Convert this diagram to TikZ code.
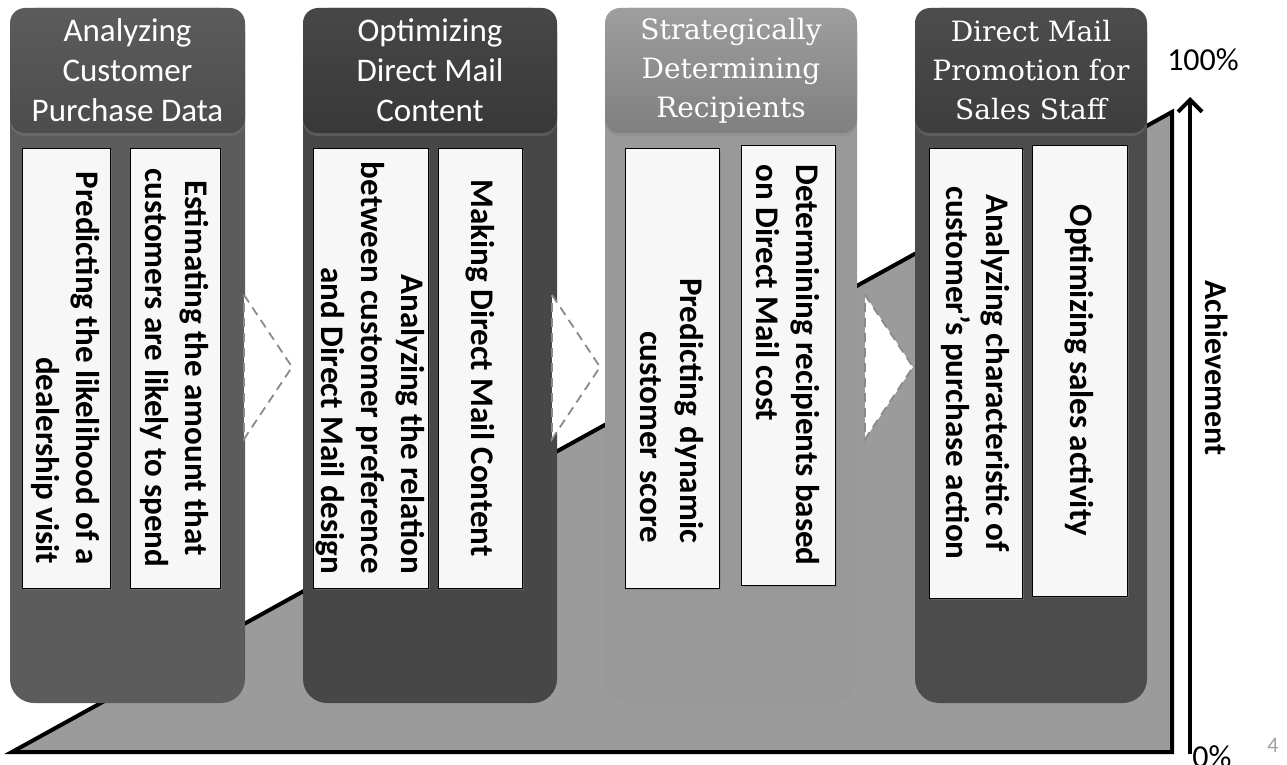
\documentclass[tikz,border=0pt]{standalone}
\usepackage{fontspec}
\setmainfont{Carlito}
\newfontfamily\headserif{DejaVu Serif}
\usepackage{tikz}
\usetikzlibrary{calc,arrows.meta,shadows}
\definecolor{polyfill}{HTML}{9B9B9B}
\definecolor{cardfill}{HTML}{F7F7F7}
\definecolor{chevline}{HTML}{8A8A8A}
\definecolor{pagenum}{HTML}{A0A0A0}
\tikzset{
  colbody/.style={rounded corners=24pt, minimum height=695pt, inner sep=0pt},
  headbox/.style={rounded corners=15pt, anchor=north, minimum height=125pt, inner sep=0pt,
    text=white, align=center, drop shadow={opacity=0.35, shadow xshift=0pt, shadow yshift=-3pt}},
  sanshead/.style={headbox, font=\fontsize{33}{40}\selectfont},
  serifhead/.style={headbox, font=\headserif\fontsize{28}{39}\selectfont},
  card/.style={draw=black, line width=1pt, fill=cardfill, rotate=-90, inner sep=0pt,
    font=\bfseries\fontsize{33}{40}\selectfont,
    drop shadow={opacity=0.45, shadow xshift=2pt, shadow yshift=-2pt}},
  chev/.style={fill=white, draw=chevline, line width=1.8pt, dash pattern=on 9pt off 6pt},
  thickline/.style={draw=black, line width=4pt},
  lab/.style={font=\fontsize{32}{34}\selectfont},
}
\begin{document}
\begin{tikzpicture}[x=1pt,y=-1pt]
  \useasboundingbox (0,0) rectangle (1287,765);

  \coordinate (P0) at (12,752);
  \coordinate (P1) at (1172,112);
  \coordinate (P2) at (1172,752);
  \draw[thickline, fill=polyfill] (P0) -- (P1) -- (P2) -- cycle;

  % columns
  \node[colbody, minimum width=235pt, fill=black!64] (col1) at (127.5,355.5) {};
  \node[colbody, minimum width=254pt, fill=black!72] (col2) at (430,355.5) {};
  \node[colbody, minimum width=252pt, fill=black!40] (col3) at (731,355.5) {};
  \node[colbody, minimum width=232pt, fill=black!70] (col4) at (1031,355.5) {};

  \node[sanshead, minimum width=235pt, top color=black!64, bottom color=black!70] (hd1) at (col1.north)
    {Analyzing\\Customer\\Purchase Data};
  \node[sanshead, minimum width=254pt, top color=black!72, bottom color=black!78] (hd2) at (col2.north)
    {Optimizing\\Direct Mail\\Content};
  \node[serifhead, minimum width=252pt, top color=black!38, bottom color=black!50] (hd3) at (col3.north)
    {Strategically\\Determining\\Recipients};
  \node[serifhead, minimum width=232pt, top color=black!70, bottom color=black!76] (hd4) at (col4.north)
    {Direct Mail\\Promotion for\\Sales Staff};

  % cards
  \node[card, minimum width=440pt, minimum height=88pt, align=right] (cA) at (66,368)
    {Predicting the likelihood of a\\dealership visit};
  \node[card, minimum width=440pt, minimum height=90pt, align=center] (cB) at (175,368)
    {Estimating the amount that\\customers are likely to spend};
  \node[card, minimum width=440pt, minimum height=115pt, align=right] (cC) at (370.5,368)
    {Analyzing the relation\\between customer preference\\and Direct Mail design};
  \node[card, minimum width=440pt, minimum height=84pt, align=center] (cD) at (480,368)
    {Making Direct Mail Content};
  \node[card, minimum width=440pt, minimum height=94pt, align=right, text width=350pt] (cE) at (672,368)
    {Predicting dynamic\\customer score};
  \node[card, minimum width=440pt, minimum height=94pt, align=left] (cF) at (788,365)
    {Determining recipients based\\on Direct Mail cost};
  \node[card, minimum width=450pt, minimum height=93pt, align=center] (cG) at (975.5,373)
    {Analyzing characteristic of\\customer's purchase action};
  \node[card, minimum width=451pt, minimum height=95pt, align=center] (cH) at (1079.5,370.5)
    {Optimizing sales activity};

  % chevrons between steps
  \draw[chev] (244,295) -- (292,367) -- (244,439) -- cycle;
  \draw[chev] (552,295) -- (600,367) -- (552,439) -- cycle;
  \draw[chev] (865,295) -- (913,367) -- (865,439) -- cycle;

  % achievement axis
  \coordinate (A0) at (1190,754);
  \coordinate (A1) at (1190,97);
  \draw[thickline, -{Straight Barb[length=12pt,width=24pt]}] (A0) -- (A1);
  \node[lab] (top) at (1203,60) {100\%};
  \node[lab, anchor=north] (bot) at (1212,742) {0\%};
  \node[font=\bfseries\fontsize{32}{34}\selectfont, rotate=-90] (ach) at (1217,368) {Achievement};
  \node[text=pagenum, font=\fontsize{22}{24}\selectfont] (pg) at (1273,745) {4};
\end{tikzpicture}
\end{document}
